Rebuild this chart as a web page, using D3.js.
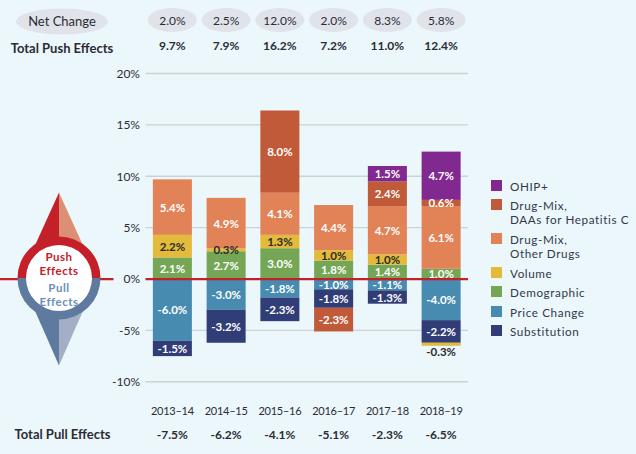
<!DOCTYPE html>
<html><head><meta charset="utf-8">
<script src="https://cdn.jsdelivr.net/npm/d3@7"></script>
<style>
html,body{margin:0;padding:0;background:#ebf7fa;overflow:hidden}
svg{display:block}
text{font-family:Lato,"Open Sans",sans-serif}
</style></head><body><div id="chart"></div>
<script>
const years=["2013–14","2014–15","2015–16","2016–17","2017–18","2018–19"];
const netChange=["2.0%","2.5%","12.0%","2.0%","8.3%","5.8%"];
const totalPush=["9.7%","7.9%","16.2%","7.2%","11.0%","12.4%"];
const totalPull=["-7.5%","-6.2%","-4.1%","-5.1%","-2.3%","-6.5%"];
const priceChange=[-6.0,-3.0,-1.8,-1.0,-1.1,-4.0];
const substitution=[-1.5,-3.2,-2.3,-1.8,-1.3,-2.2];
const demographic=[2.1,2.7,3.0,1.8,1.4,1.0];
const volume=[2.2,0.3,1.3,1.0,1.0,-0.3];
const drugMixOther=[5.4,4.9,4.1,4.4,4.7,6.1];
const drugMixDAA=[0,0,8.0,-2.3,2.4,0.6];
const ohip=[0,0,0,0,1.5,4.7];
const yTicks=[-10,-5,0,5,10,15,20];
const stackOrder=[
 {key:"Price Change",values:priceChange,color:"#478bb0",text:"#fff"},
 {key:"Substitution",values:substitution,color:"#313d77",text:"#fff"},
 {key:"Demographic",values:demographic,color:"#74a656",text:"#fff"},
 {key:"Volume",values:volume,color:"#e4ba3a",text:"#2a2a2a"},
 {key:"Drug-Mix, Other Drugs",values:drugMixOther,color:"#e28257",text:"#fff"},
 {key:"Drug-Mix, DAAs for Hepatitis C",values:drugMixDAA,color:"#c05a38",text:"#fff"},
 {key:"OHIP+",values:ohip,color:"#812990",text:"#fff"}
];
const legendItems=[
 {lines:["OHIP+"],color:"#812990"},
 {lines:["Drug-Mix,","DAAs for Hepatitis C"],color:"#c05a38"},
 {lines:["Drug-Mix,","Other Drugs"],color:"#e28257"},
 {lines:["Volume"],color:"#e4ba3a"},
 {lines:["Demographic"],color:"#74a656"},
 {lines:["Price Change"],color:"#478bb0"},
 {lines:["Substitution"],color:"#313d77"}
];
const legendTops=[180,199,233,267,286,306,325];

const W=636,H=454,ink="#2b2b36";
const svg=d3.select("#chart").append("svg").attr("width",W).attr("height",H);
svg.append("rect").attr("width",W).attr("height",H).attr("fill","#ebf7fa");
const y=d3.scaleLinear().domain([-10,20]).range([381.8,73.5]);
const x=d3.scaleBand().domain(years).range([145.5,468]).paddingInner(0.274).paddingOuter(0.137);
const cx=d=>x(d)+x.bandwidth()/2;

// header rows
svg.append("ellipse").attr("cx",62).attr("cy",21.5).attr("rx",46).attr("ry",13).attr("fill","#e0e3ea");
svg.append("text").attr("x",62).attr("y",21).attr("text-anchor","middle").attr("dominant-baseline","central")
 .attr("font-size",13).attr("fill",ink).text("Net Change");
svg.append("text").attr("x",62).attr("y",48).attr("text-anchor","middle").attr("dominant-baseline","central")
 .attr("font-size",13).attr("font-weight",700).attr("fill",ink).text("Total Push Effects");
svg.append("text").attr("x",62.5).attr("y",434).attr("text-anchor","middle").attr("dominant-baseline","central")
 .attr("font-size",13).attr("font-weight",700).attr("fill",ink).text("Total Pull Effects");
const row=(arr,yy,size,weight,ls)=>svg.append("g").selectAll("text").data(arr).join("text")
 .attr("x",(d,i)=>cx(years[i])).attr("y",yy).attr("text-anchor","middle").attr("dominant-baseline","central")
 .attr("font-size",size).attr("font-weight",weight).attr("letter-spacing",ls||0).attr("fill",ink).text(d=>d);
svg.append("g").selectAll("ellipse").data(years).join("ellipse")
 .attr("cx",d=>cx(d)).attr("cy",20).attr("rx",24.5).attr("ry",12).attr("fill","#e0e3ea");
row(netChange,20,12,400);
row(totalPush,45.5,12,700);
row(years,410,11,400,-0.25);
row(totalPull,434,12,700);

// grid and y axis
const axis=d3.axisLeft(y).tickValues(yTicks).tickSize(0).tickPadding(5.5).tickFormat(d=>d+"%");
const gA=svg.append("g").attr("transform","translate(145.5,0)").call(axis);
gA.select(".domain").remove();
gA.selectAll("text").attr("font-size",12).attr("fill",ink).attr("font-family","Lato,sans-serif");
svg.append("g").selectAll("line").data(yTicks.filter(d=>d!==0)).join("line")
 .attr("x1",145.5).attr("x2",468).attr("y1",d=>y(d)).attr("y2",d=>y(d))
 .attr("stroke","#cdd2d5").attr("stroke-width",1.4);

// bars
const rows=years.map((yr,i)=>{const o={year:yr};stackOrder.forEach(s=>o[s.key]=s.values[i]);return o;});
const series=d3.stack().keys(stackOrder.map(s=>s.key)).offset(d3.stackOffsetDiverging)(rows);
const gB=svg.append("g");
series.forEach((s,si)=>{
 const meta=stackOrder[si];
 gB.append("g").selectAll("rect").data(s.filter(d=>d[1]!==d[0])).join("rect")
  .attr("x",d=>x(d.data.year)).attr("width",x.bandwidth())
  .attr("y",d=>y(d[1])).attr("height",d=>y(d[0])-y(d[1])).attr("fill",meta.color);
});

// zero line
[[0,113.5],[145.5,468]].forEach(([a,b])=>svg.append("line").attr("x1",a).attr("x2",b)
 .attr("y1",y(0)).attr("y2",y(0)).attr("stroke","#c4202a").attr("stroke-width",2.2));

// segment labels
series.forEach((s,si)=>{
 const meta=stackOrder[si];
 svg.append("g").selectAll("text").data(s.filter(d=>d[1]!==d[0])).join("text")
  .attr("x",d=>cx(d.data.year))
  .attr("y",d=>{const v=d[1]-d[0];const small=d.data[meta.key]<0&&v<0.5;
    return small?y(d[0])+6:y((d[0]+d[1])/2);})
  .attr("text-anchor","middle").attr("dominant-baseline","central")
  .attr("font-size",11.5).attr("font-weight",700)
  .attr("fill",meta.text)
  .text(d=>d.data[meta.key].toFixed(1)+"%");
});

// compass
const c=svg.append("g").attr("transform","translate(59,278)");
c.append("path").attr("d","M0,-85.5 L-27,-26 L0,-26Z").attr("fill","#c4202a");
c.append("path").attr("d","M0,-85.5 L27,-26 L0,-26Z").attr("fill","#dd8f76");
c.append("path").attr("d","M0,87.5 L-27,26 L0,26Z").attr("fill","#5f7a9f");
c.append("path").attr("d","M0,87.5 L27,26 L0,26Z").attr("fill","#a4aec4");
c.append("circle").attr("r",37).attr("fill","#fff");
const arc=d3.arc().innerRadius(33).outerRadius(41.5);
c.append("path").attr("d",arc({startAngle:-Math.PI/2,endAngle:Math.PI/2})).attr("fill","#c4202a");
c.append("path").attr("d",arc({startAngle:Math.PI/2,endAngle:Math.PI*1.5})).attr("fill","#5f7a9f");
[["Push",-22,"#c4202a"],["Effects",-8,"#c4202a"],["Pull",9,"#6a8fbd"],["Effects",23,"#6a8fbd"]].forEach(([t,yy,col])=>
 c.append("text").attr("y",yy).attr("text-anchor","middle").attr("dominant-baseline","central")
  .attr("font-size",11.5).attr("letter-spacing",0.5).attr("font-weight",700).attr("fill",col).text(t));

// legend
const gL=svg.append("g").selectAll("g").data(legendItems).join("g")
 .attr("transform",(d,i)=>`translate(491,${legendTops[i]})`);
gL.append("rect").attr("width",11).attr("height",11).attr("fill",d=>d.color);
gL.each(function(d){
 d3.select(this).selectAll("text").data(d.lines).join("text")
  .attr("x",19).attr("y",(t,i)=>5.5+i*14).attr("dominant-baseline","central")
  .attr("font-size",11.7).attr("letter-spacing",0.6).attr("fill","#33384a").text(t=>t);
});
</script></body></html>
